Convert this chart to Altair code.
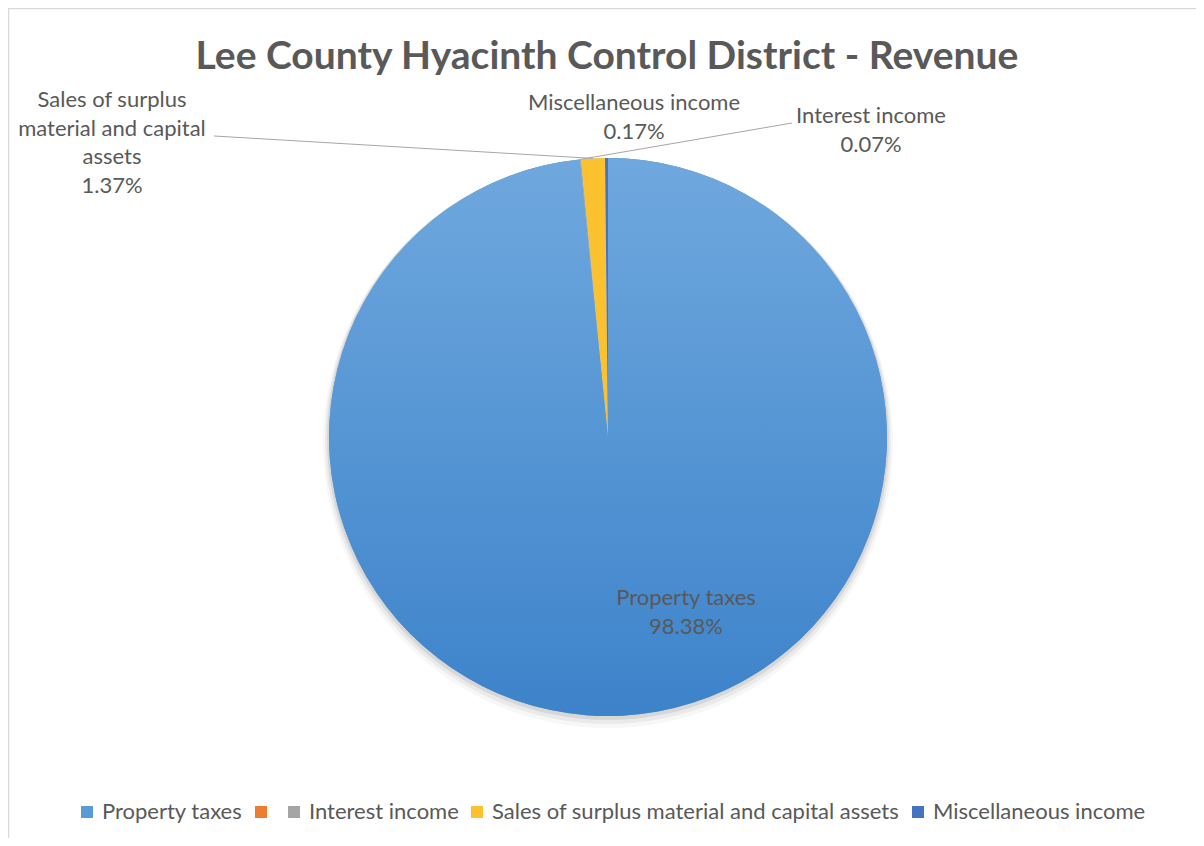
import math
import altair as alt
import pandas as pd

# ---------------- data ----------------
categories = [
    "Property taxes",
    " ",
    "Interest income",
    "Sales of surplus material and capital assets",
    "Miscellaneous income",
]
values = [98.38, 0.0, 0.07, 1.37, 0.17]
label_names = [
    "Property taxes",
    "",
    "Interest income",
    "Sales of surplus\nmaterial and capital\nassets",
    "Miscellaneous income",
]
colors = ["#5b9bd5", "#ed7d31", "#a5a5a5", "#fcc12f", "#4472c4"]
title_text = "Lee County Hyacinth Control District - Revenue"

# ---------------- layout (pixels, view coords) ----------------
W, H = 1188, 830
CX, CY, R = 600, 429, 279
FONT = "Lato"
TXT = "#595959"
FS = 22
label_pos = {  # top-centre of each data label block
    "Property taxes": (678, 580),
    "Interest income": (863, 98),
    "Sales of surplus material and capital assets": (104, 82),
    "Miscellaneous income": (626, 85),
}
leader_end = {
    "Interest income": (784, 115),
    "Sales of surplus material and capital assets": (206, 128),
}

total = sum(values)
df = pd.DataFrame({"category": categories, "value": values, "order": list(range(len(values)))})

base = alt.Chart(df).transform_window(
    end="sum(value)", sort=[alt.SortField("order")], frame=[None, 0]
).transform_calculate(start="datum.end - datum.value")

theta_scale = alt.Scale(domain=[0, total])

# shadow
shadow_layers = []
for dr, dy, op in [(6, 6, 0.03), (4, 4, 0.05), (2, 2, 0.08)]:
    shadow_layers.append(
        alt.Chart(pd.DataFrame({"a": [0]})).mark_arc(
            radius=R + dr, theta=0, theta2=2 * math.pi, color="#000000", opacity=op
        ).encode(x=alt.value(CX), y=alt.value(CY + dy))
    )

slices = base.mark_arc(radius=R).encode(
    theta=alt.Theta("start:Q", scale=theta_scale),
    theta2="end:Q",
    x=alt.value(CX),
    y=alt.value(CY),
    color=alt.Color(
        "category:N",
        scale=alt.Scale(domain=categories, range=colors),
        legend=alt.Legend(
            orient="none",
            legendX=68,
            legendY=793,
            direction="horizontal",
            title=None,
            symbolType="square",
            symbolSize=144,
            symbolStrokeWidth=0,
            labelFont=FONT,
            labelFontSize=FS,
            labelColor=TXT,
            labelOffset=4,
            columnPadding=7,
            padding=0,
            labelLimit=700,
            labelExpr="datum.label == ' ' ? '' : datum.label",
        ),
    ),
)

grad = alt.Gradient(
    gradient="linear",
    stops=[
        alt.GradientStop(color="#6fa8de", offset=0),
        alt.GradientStop(color="#3d83ca", offset=1),
    ],
    x1=0, x2=0, y1=0, y2=1,
)
prop = base.transform_filter(alt.datum.category == "Property taxes").mark_arc(
    radius=R, fill=grad
).encode(
    theta=alt.Theta("start:Q", scale=theta_scale),
    theta2="end:Q",
    x=alt.value(CX),
    y=alt.value(CY),
)

# leader lines (from slice mid-angle on the rim to the label)
cum = 0.0
rows = []
for c, v in zip(categories, values):
    mid = (cum + v / 2) / total * 2 * math.pi
    cum += v
    if c in leader_end:
        ex, ey = leader_end[c]
        rows.append({"x": CX + R * math.sin(mid), "y": CY - R * math.cos(mid), "x2": ex, "y2": ey})
lead = alt.Chart(pd.DataFrame(rows)).mark_rule(color="#a6a6a6", strokeWidth=1).encode(
    x=alt.X("x:Q", scale=None),
    y=alt.Y("y:Q", scale=None),
    x2="x2:Q",
    y2="y2:Q",
)

# data labels
lab_rows = []
for c, n, v in zip(categories, label_names, values):
    if c in label_pos:
        px, py = label_pos[c]
        lab_rows.append({"t": f"{n}\n{v:.2f}%", "x": px, "y": py})
labels = alt.Chart(pd.DataFrame(lab_rows)).mark_text(
    font=FONT, fontSize=FS, color=TXT, align="center", baseline="top",
    lineBreak="\n", lineHeight=28.5,
).encode(x=alt.X("x:Q", scale=None), y=alt.Y("y:Q", scale=None), text="t:N")

title = alt.Chart(pd.DataFrame({"t": [title_text]})).mark_text(
    font=FONT, fontSize=39, fontWeight="bold", color=TXT, align="center", baseline="middle"
).encode(x=alt.value(599), y=alt.value(49), text="t:N")

border = alt.Chart(pd.DataFrame({"a": [0]})).mark_rule(color="#d9d9d9", strokeWidth=1.5).encode(
    x=alt.value(0.5), x2=alt.value(W), y=alt.value(0.5)
)
border_l = alt.Chart(pd.DataFrame({"a": [0]})).mark_rule(color="#d9d9d9", strokeWidth=1.5).encode(
    x=alt.value(0.5), y=alt.value(0.5), y2=alt.value(H)
)

chart = alt.layer(
    *shadow_layers, slices, prop, lead, labels, title, border, border_l
).properties(
    width=W, height=H, padding=0, autosize=alt.AutoSizeParams(type="none")
).configure_view(stroke=None).configure(background="#ffffff")

chart.save("out.html", embed_options={"renderer": "svg", "actions": False})
